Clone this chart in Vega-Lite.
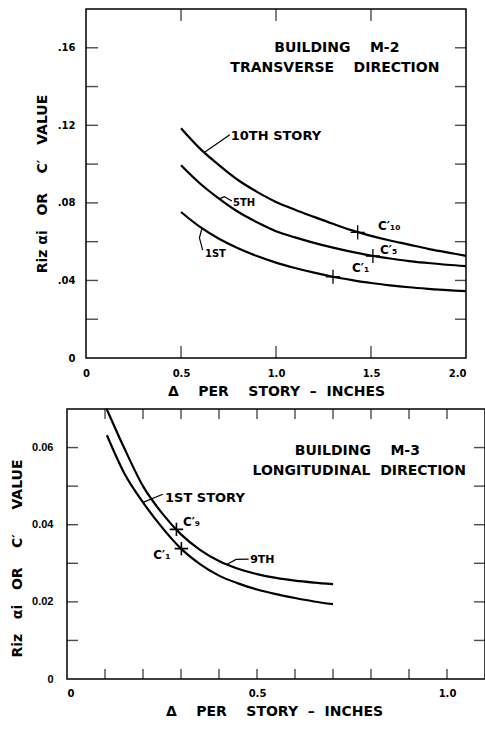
{
  "$schema": "https://vega.github.io/schema/vega-lite/v6.json",
  "background": "white",
  "padding": {"left": 10, "top": 8, "right": 0, "bottom": 0},
  "spacing": 6,
  "datasets": {
    "t1x": [{"v": 0.5}, {"v": 1.0}, {"v": 1.5}],
    "t1y": [{"v": 0.02}, {"v": 0.04}, {"v": 0.06}, {"v": 0.08}, {"v": 0.1}, {"v": 0.12}, {"v": 0.14}, {"v": 0.16}],
    "t2x": [{"v": 0.1}, {"v": 0.2}, {"v": 0.3}, {"v": 0.4}, {"v": 0.5}, {"v": 0.6}, {"v": 0.7}, {"v": 0.8}, {"v": 0.9}, {"v": 1.0}],
    "t2y": [{"v": 0.01}, {"v": 0.02}, {"v": 0.03}, {"v": 0.04}, {"v": 0.05}, {"v": 0.06}]
  },
  "config": {
    "view": {"stroke": null},
    "axis": {
      "grid": false,
      "domain": false,
      "ticks": false,
      "labelColor": "black",
      "labelFont": "DejaVu Sans",
      "labelFontWeight": "bold",
      "labelFontSize": 10,
      "titleColor": "black",
      "titleFont": "DejaVu Sans",
      "titleFontWeight": "bold",
      "titleFontSize": 14
    },
    "text": {"font": "DejaVu Sans", "fontWeight": "bold", "color": "black"}
  },
  "vconcat": [
    {
      "width": 399,
      "height": 349,
      "layer": [
        {
          "data": {"values": [{"x0": 0, "x1": 2, "y0": 0, "y1": 0.18}]},
          "mark": {"type": "rect", "fill": "transparent", "stroke": "black", "strokeWidth": 1.5},
          "encoding": {
            "x": {"field": "x0", "type": "quantitative", "scale": {"domain": [-0.1, 2.0], "nice": false, "zero": false},
                  "axis": {"orient": "bottom", "values": [0, 0.5, 1, 1.5, 2], "labelPadding": 10,
                           "labelExpr": "datum.value == 0 ? '0' : format(datum.value, '.1f')",
                           "title": "Δ\u00a0\u00a0\u00a0\u00a0PER\u00a0\u00a0\u00a0\u00a0STORY\u00a0\u00a0–\u00a0\u00a0INCHES", "titleX": 209, "titlePadding": 6}},
            "x2": {"field": "x1"},
            "y": {"field": "y0", "type": "quantitative", "scale": {"domain": [0, 0.18], "nice": false},
                  "axis": {"orient": "left", "offset": -19, "values": [0, 0.02, 0.04, 0.06, 0.08, 0.1, 0.12, 0.14, 0.16, 0.18], "labelPadding": 11,
                           "labelExpr": "datum.value == 0 ? '0' : replace(format(datum.value, '.2f'), '0.', '.')",
                           "title": "Riz\u00a0αi\u00a0\u00a0\u00a0OR\u00a0\u00a0\u00a0\u00a0C′\u00a0\u00a0\u00a0VALUE", "titlePadding": 8}},
            "y2": {"field": "y1"}
          }
        },
        {
          "data": {"name": "t1x"},
          "mark": {"type": "tick", "orient": "vertical", "color": "black", "size": 12, "thickness": 1.4, "yOffset": -6},
          "encoding": {
            "x": {"field": "v", "type": "quantitative"},
            "y": {"datum": 0, "type": "quantitative"}
          }
        },
        {
          "data": {"name": "t1x"},
          "mark": {"type": "tick", "orient": "vertical", "color": "black", "size": 12, "thickness": 1.4, "yOffset": 6},
          "encoding": {
            "x": {"field": "v", "type": "quantitative"},
            "y": {"datum": 0.18, "type": "quantitative"}
          }
        },
        {
          "data": {"name": "t1y"},
          "mark": {"type": "tick", "orient": "horizontal", "color": "black", "size": 12, "thickness": 1.4, "xOffset": 6},
          "encoding": {
            "y": {"field": "v", "type": "quantitative"},
            "x": {"datum": 0, "type": "quantitative"}
          }
        },
        {
          "data": {"name": "t1y"},
          "mark": {"type": "tick", "orient": "horizontal", "color": "black", "size": 11, "thickness": 1.4, "xOffset": -5.5},
          "encoding": {
            "y": {"field": "v", "type": "quantitative"},
            "x": {"datum": 2, "type": "quantitative"}
          }
        },
        {
          "data": {"values": [
            {"story": "10th", "x": 0.5, "y": 0.1185}, {"story": "10th", "x": 0.6, "y": 0.108}, {"story": "10th", "x": 0.7, "y": 0.0995},
            {"story": "10th", "x": 0.8, "y": 0.0918}, {"story": "10th", "x": 0.9, "y": 0.0857}, {"story": "10th", "x": 1.0, "y": 0.0805},
            {"story": "10th", "x": 1.1, "y": 0.0765}, {"story": "10th", "x": 1.2, "y": 0.0728}, {"story": "10th", "x": 1.3, "y": 0.0692},
            {"story": "10th", "x": 1.4, "y": 0.0658}, {"story": "10th", "x": 1.5, "y": 0.063}, {"story": "10th", "x": 1.6, "y": 0.0606},
            {"story": "10th", "x": 1.7, "y": 0.0585}, {"story": "10th", "x": 1.8, "y": 0.0563}, {"story": "10th", "x": 1.9, "y": 0.0545},
            {"story": "10th", "x": 2.0, "y": 0.0527},
            {"story": "5th", "x": 0.5, "y": 0.0994}, {"story": "5th", "x": 0.6, "y": 0.09}, {"story": "5th", "x": 0.7, "y": 0.0822},
            {"story": "5th", "x": 0.8, "y": 0.0754}, {"story": "5th", "x": 0.9, "y": 0.07}, {"story": "5th", "x": 1.0, "y": 0.0654},
            {"story": "5th", "x": 1.1, "y": 0.0622}, {"story": "5th", "x": 1.2, "y": 0.0594}, {"story": "5th", "x": 1.3, "y": 0.0569},
            {"story": "5th", "x": 1.4, "y": 0.0547}, {"story": "5th", "x": 1.5, "y": 0.0528}, {"story": "5th", "x": 1.6, "y": 0.0513},
            {"story": "5th", "x": 1.7, "y": 0.05}, {"story": "5th", "x": 1.8, "y": 0.049}, {"story": "5th", "x": 1.9, "y": 0.0481},
            {"story": "5th", "x": 2.0, "y": 0.0474},
            {"story": "1st", "x": 0.5, "y": 0.0753}, {"story": "1st", "x": 0.6, "y": 0.0676}, {"story": "1st", "x": 0.7, "y": 0.0615},
            {"story": "1st", "x": 0.8, "y": 0.0566}, {"story": "1st", "x": 0.9, "y": 0.0526}, {"story": "1st", "x": 1.0, "y": 0.0492},
            {"story": "1st", "x": 1.1, "y": 0.0464}, {"story": "1st", "x": 1.2, "y": 0.044}, {"story": "1st", "x": 1.3, "y": 0.0419},
            {"story": "1st", "x": 1.4, "y": 0.0402}, {"story": "1st", "x": 1.5, "y": 0.0387}, {"story": "1st", "x": 1.6, "y": 0.0375},
            {"story": "1st", "x": 1.7, "y": 0.0365}, {"story": "1st", "x": 1.8, "y": 0.0357}, {"story": "1st", "x": 1.9, "y": 0.035},
            {"story": "1st", "x": 2.0, "y": 0.0345}
          ]},
          "mark": {"type": "line", "color": "black", "strokeWidth": 2.2, "interpolate": "monotone"},
          "encoding": {
            "x": {"field": "x", "type": "quantitative"},
            "y": {"field": "y", "type": "quantitative"},
            "detail": {"field": "story"}
          }
        },
        {
          "data": {"values": [
            {"id": "a", "o": 1, "x": 0.626, "y": 0.1062}, {"id": "a", "o": 2, "x": 0.757, "y": 0.1152},
            {"id": "b", "o": 1, "x": 0.705, "y": 0.0822}, {"id": "b", "o": 2, "x": 0.728, "y": 0.0832}, {"id": "b", "o": 3, "x": 0.768, "y": 0.081},
            {"id": "c", "o": 1, "x": 0.61, "y": 0.0668}, {"id": "c", "o": 2, "x": 0.597, "y": 0.062}, {"id": "c", "o": 3, "x": 0.614, "y": 0.0556}
          ]},
          "mark": {"type": "line", "color": "black", "strokeWidth": 1.2},
          "encoding": {
            "x": {"field": "x", "type": "quantitative"},
            "y": {"field": "y", "type": "quantitative"},
            "detail": {"field": "id"},
            "order": {"field": "o"}
          }
        },
        {
          "data": {"values": [{"x": 1.43, "y": 0.0648}, {"x": 1.51, "y": 0.0526}, {"x": 1.3, "y": 0.0419}]},
          "mark": {"type": "point", "shape": "M-1,0L1,0M0,-1L0,1", "size": 200, "filled": false, "stroke": "black", "strokeWidth": 1.3, "opacity": 1},
          "encoding": {
            "x": {"field": "x", "type": "quantitative"},
            "y": {"field": "y", "type": "quantitative"}
          }
        },
        {
          "data": {"values": [
            {"x": 1.32, "y": 0.16, "t": "BUILDING\u00a0\u00a0\u00a0\u00a0M-2"},
            {"x": 1.31, "y": 0.1496, "t": "TRANSVERSE\u00a0\u00a0\u00a0\u00a0DIRECTION"}
          ]},
          "mark": {"type": "text", "fontSize": 14, "align": "center", "baseline": "middle"},
          "encoding": {
            "x": {"field": "x", "type": "quantitative"},
            "y": {"field": "y", "type": "quantitative"},
            "text": {"field": "t"}
          }
        },
        {
          "data": {"values": [{"x": 0.762, "y": 0.1145, "t": "10TH STORY"}]},
          "mark": {"type": "text", "fontSize": 13, "align": "left", "baseline": "middle"},
          "encoding": {
            "x": {"field": "x", "type": "quantitative"},
            "y": {"field": "y", "type": "quantitative"},
            "text": {"field": "t"}
          }
        },
        {
          "data": {"values": [{"x": 0.774, "y": 0.0801, "t": "5TH"}, {"x": 0.626, "y": 0.0536, "t": "1ST"}]},
          "mark": {"type": "text", "fontSize": 10, "align": "left", "baseline": "middle"},
          "encoding": {
            "x": {"field": "x", "type": "quantitative"},
            "y": {"field": "y", "type": "quantitative"},
            "text": {"field": "t"}
          }
        },
        {
          "data": {"values": [
            {"x": 1.537, "y": 0.068, "t": "C′₁₀"},
            {"x": 1.547, "y": 0.0557, "t": "C′₅"},
            {"x": 1.4, "y": 0.0464, "t": "C′₁"}
          ]},
          "mark": {"type": "text", "fontSize": 12, "align": "left", "baseline": "middle"},
          "encoding": {
            "x": {"field": "x", "type": "quantitative"},
            "y": {"field": "y", "type": "quantitative"},
            "text": {"field": "t"}
          }
        }
      ]
    },
    {
      "width": 418,
      "height": 270,
      "layer": [
        {
          "data": {"values": [{"x0": 0, "x1": 1.1, "y0": 0, "y1": 0.07}]},
          "mark": {"type": "rect", "fill": "transparent", "stroke": "black", "strokeWidth": 1.5},
          "encoding": {
            "x": {"field": "x0", "type": "quantitative", "scale": {"domain": [0, 1.1], "nice": false},
                  "axis": {"orient": "bottom", "values": [0, 0.5, 1.0], "labelPadding": 9,
                           "labelExpr": "datum.value == 0 ? '0' : format(datum.value, '.1f')",
                           "title": "Δ\u00a0\u00a0\u00a0\u00a0PER\u00a0\u00a0\u00a0\u00a0STORY\u00a0\u00a0–\u00a0\u00a0INCHES", "titleX": 207, "titlePadding": 6}},
            "x2": {"field": "x1"},
            "y": {"field": "y0", "type": "quantitative", "scale": {"domain": [0, 0.07], "nice": false},
                  "axis": {"orient": "left", "values": [0, 0.01, 0.02, 0.03, 0.04, 0.05, 0.06, 0.07], "labelPadding": 14,
                           "labelFont": "Liberation Sans", "labelFontSize": 11,
                           "labelExpr": "datum.value == 0 ? '0' : format(datum.value, '.2f')",
                           "title": "Riz\u00a0\u00a0\u00a0αi\u00a0\u00a0\u00a0OR\u00a0\u00a0\u00a0\u00a0C′\u00a0\u00a0\u00a0\u00a0\u00a0VALUE", "titleY": 149, "titlePadding": 7}},
            "y2": {"field": "y1"}
          }
        },
        {
          "data": {"name": "t2x"},
          "mark": {"type": "tick", "orient": "vertical", "color": "black", "size": 10, "thickness": 1.4, "yOffset": -5},
          "encoding": {
            "x": {"field": "v", "type": "quantitative"},
            "y": {"datum": 0, "type": "quantitative"}
          }
        },
        {
          "data": {"name": "t2x"},
          "mark": {"type": "tick", "orient": "vertical", "color": "black", "size": 10, "thickness": 1.4, "yOffset": 5},
          "encoding": {
            "x": {"field": "v", "type": "quantitative"},
            "y": {"datum": 0.07, "type": "quantitative"}
          }
        },
        {
          "data": {"name": "t2y"},
          "mark": {"type": "tick", "orient": "horizontal", "color": "black", "size": 11, "thickness": 1.4, "xOffset": 5.5},
          "encoding": {
            "y": {"field": "v", "type": "quantitative"},
            "x": {"datum": 0, "type": "quantitative"}
          }
        },
        {
          "data": {"name": "t2y"},
          "mark": {"type": "tick", "orient": "horizontal", "color": "black", "size": 11, "thickness": 1.4, "xOffset": -5.5},
          "encoding": {
            "y": {"field": "v", "type": "quantitative"},
            "x": {"datum": 1.1, "type": "quantitative"}
          }
        },
        {
          "data": {"values": [
            {"story": "9th", "x": 0.104, "y": 0.0701}, {"story": "9th", "x": 0.15, "y": 0.06}, {"story": "9th", "x": 0.2, "y": 0.05},
            {"story": "9th", "x": 0.25, "y": 0.043}, {"story": "9th", "x": 0.3, "y": 0.0375}, {"story": "9th", "x": 0.35, "y": 0.0335},
            {"story": "9th", "x": 0.4, "y": 0.0306}, {"story": "9th", "x": 0.45, "y": 0.0286}, {"story": "9th", "x": 0.5, "y": 0.0272},
            {"story": "9th", "x": 0.55, "y": 0.0262}, {"story": "9th", "x": 0.6, "y": 0.0255}, {"story": "9th", "x": 0.65, "y": 0.025},
            {"story": "9th", "x": 0.7, "y": 0.0246},
            {"story": "1st", "x": 0.105, "y": 0.0632}, {"story": "1st", "x": 0.15, "y": 0.0535}, {"story": "1st", "x": 0.2, "y": 0.0458},
            {"story": "1st", "x": 0.25, "y": 0.0393}, {"story": "1st", "x": 0.3, "y": 0.0338}, {"story": "1st", "x": 0.35, "y": 0.0298},
            {"story": "1st", "x": 0.4, "y": 0.0268}, {"story": "1st", "x": 0.45, "y": 0.0248}, {"story": "1st", "x": 0.5, "y": 0.0232},
            {"story": "1st", "x": 0.55, "y": 0.022}, {"story": "1st", "x": 0.6, "y": 0.021}, {"story": "1st", "x": 0.65, "y": 0.0201},
            {"story": "1st", "x": 0.7, "y": 0.0194}
          ]},
          "mark": {"type": "line", "color": "black", "strokeWidth": 2.2, "interpolate": "monotone"},
          "encoding": {
            "x": {"field": "x", "type": "quantitative"},
            "y": {"field": "y", "type": "quantitative"},
            "detail": {"field": "story"}
          }
        },
        {
          "data": {"values": [
            {"id": "a", "o": 1, "x": 0.2, "y": 0.0458}, {"id": "a", "o": 2, "x": 0.252, "y": 0.0479},
            {"id": "b", "o": 1, "x": 0.42, "y": 0.0297}, {"id": "b", "o": 2, "x": 0.445, "y": 0.031}, {"id": "b", "o": 3, "x": 0.478, "y": 0.0311}
          ]},
          "mark": {"type": "line", "color": "black", "strokeWidth": 1.2},
          "encoding": {
            "x": {"field": "x", "type": "quantitative"},
            "y": {"field": "y", "type": "quantitative"},
            "detail": {"field": "id"},
            "order": {"field": "o"}
          }
        },
        {
          "data": {"values": [{"x": 0.288, "y": 0.0388}, {"x": 0.301, "y": 0.0338}]},
          "mark": {"type": "point", "shape": "M-1,0L1,0M0,-1L0,1", "size": 180, "filled": false, "stroke": "black", "strokeWidth": 1.6, "opacity": 1},
          "encoding": {
            "x": {"field": "x", "type": "quantitative"},
            "y": {"field": "y", "type": "quantitative"}
          }
        },
        {
          "data": {"values": [
            {"x": 0.764, "y": 0.0591, "t": "BUILDING\u00a0\u00a0\u00a0\u00a0M-3"},
            {"x": 0.769, "y": 0.0539, "t": "LONGITUDINAL\u00a0\u00a0DIRECTION"}
          ]},
          "mark": {"type": "text", "fontSize": 14, "align": "center", "baseline": "middle"},
          "encoding": {
            "x": {"field": "x", "type": "quantitative"},
            "y": {"field": "y", "type": "quantitative"},
            "text": {"field": "t"}
          }
        },
        {
          "data": {"values": [{"x": 0.258, "y": 0.0468, "t": "1ST STORY"}]},
          "mark": {"type": "text", "fontSize": 13, "align": "left", "baseline": "middle"},
          "encoding": {
            "x": {"field": "x", "type": "quantitative"},
            "y": {"field": "y", "type": "quantitative"},
            "text": {"field": "t"}
          }
        },
        {
          "data": {"values": [{"x": 0.482, "y": 0.0309, "t": "9TH"}]},
          "mark": {"type": "text", "fontSize": 11, "align": "left", "baseline": "middle"},
          "encoding": {
            "x": {"field": "x", "type": "quantitative"},
            "y": {"field": "y", "type": "quantitative"},
            "text": {"field": "t"}
          }
        },
        {
          "data": {"values": [
            {"x": 0.305, "y": 0.0407, "t": "C′₉"},
            {"x": 0.227, "y": 0.0321, "t": "C′₁"}
          ]},
          "mark": {"type": "text", "fontSize": 12, "align": "left", "baseline": "middle"},
          "encoding": {
            "x": {"field": "x", "type": "quantitative"},
            "y": {"field": "y", "type": "quantitative"},
            "text": {"field": "t"}
          }
        }
      ]
    }
  ]
}
